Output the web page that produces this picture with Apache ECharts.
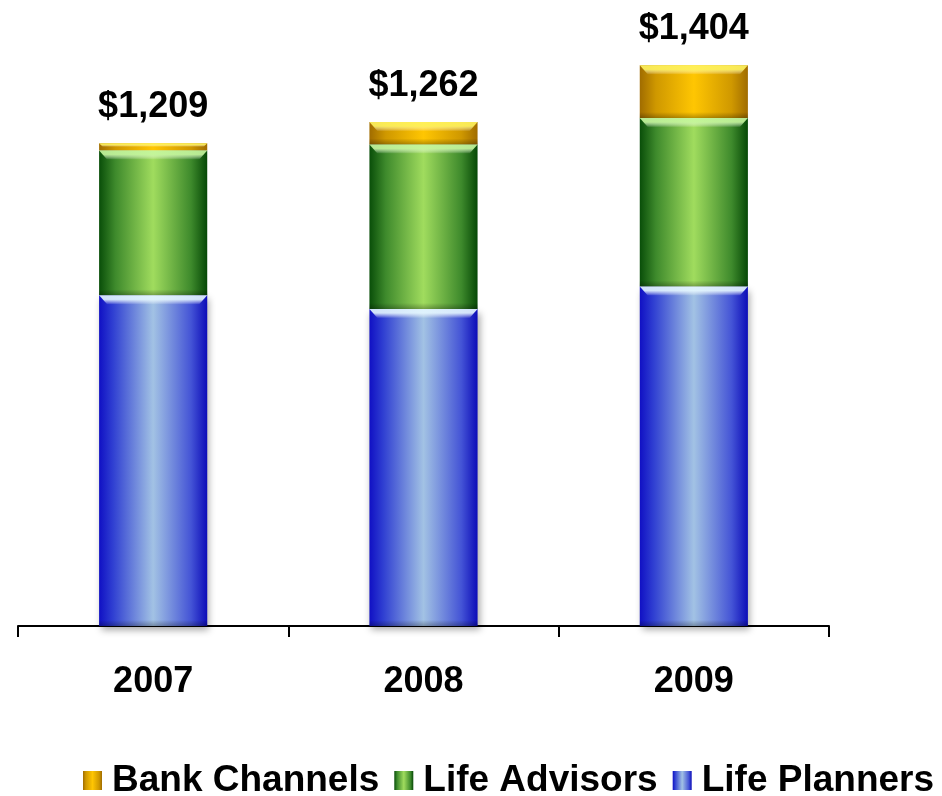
<!DOCTYPE html>
<html>
<head>
<meta charset="utf-8">
<script src="https://cdn.jsdelivr.net/npm/echarts@6/dist/echarts.min.js"></script>
<style>
  html, body { margin: 0; padding: 0; background: #ffffff; }
  #chart { width: 942px; height: 796px; }
</style>
</head>
<body>
<div id="chart"></div>
<script>
// Revenue by distribution channel ($ millions)
const years = ['2007', '2008', '2009'];
const lifePlanners = [828, 794, 850];
const lifeAdvisors = [363, 412, 422];
const bankChannels = [18, 56, 132];

const FONT = '"Liberation Sans", Arial, Helvetica, sans-serif';
const BAR_RATIO = 0.4;

function hGrad(stops) {
  return new echarts.graphic.LinearGradient(0, 0, 1, 0,
    stops.map(s => ({ offset: s[0], color: s[1] })));
}

const blueFill = hGrad([[0, '#1010c4'], [0.13, '#3040d2'], [0.5, '#a2c2e4'], [0.85, '#4454d6'], [1, '#0c0cb8']]);
const greenFill = hGrad([[0, '#094e09'], [0.15, '#3e8a2c'], [0.5, '#a0dc5e'], [0.85, '#3e8a2c'], [1, '#064806']]);
const goldFill = hGrad([[0, '#a06c00'], [0.15, '#cf9800'], [0.5, '#ffc602'], [0.85, '#cf9800'], [1, '#a06c00']]);

const seriesStack = [lifePlanners, lifeAdvisors, bankChannels];
const glossTint = ['#e6f8ff', '#c8f8a0', '#fff460'];

// segment extents for the bevel overlay: [category, base, top, layer]
const glossData = [];
years.forEach((y, i) => {
  let base = 0;
  seriesStack.forEach((arr, k) => {
    glossData.push([i, base, base + arr[i], k]);
    base += arr[i];
  });
});

function totalAt(i) {
  return lifePlanners[i] + lifeAdvisors[i] + bankChannels[i];
}

// glossy top bevel and shaded lower edge drawn over each stacked segment
function renderBevel(params, api) {
  const cat = api.value(0);
  const lo = api.value(1);
  const hi = api.value(2);
  const layer = glossData[params.dataIndex][3];
  const pTop = api.coord([cat, hi]);
  const pBot = api.coord([cat, lo]);
  const w = api.size([1, 0])[0] * BAR_RATIO;
  const x0 = pTop[0] - w / 2;
  const x1 = pTop[0] + w / 2;
  const y0 = pTop[1];
  const h = pBot[1] - pTop[1];
  const band = Math.min(9, h * 0.5);
  const inset = Math.min(8, band);
  const tint = glossTint[layer];
  const children = [
    {
      type: 'polygon',
      shape: { points: [[x0, y0], [x1, y0], [x1 - inset, y0 + band], [x0 + inset, y0 + band]] },
      style: {
        fill: new echarts.graphic.LinearGradient(0, 0, 0, 1, [
          { offset: 0, color: tint },
          { offset: 0.45, color: tint },
          { offset: 1, color: 'rgba(255,255,255,0.05)' }
        ]),
        opacity: 0.9
      }
    }
  ];
  if (h > 12) {
    children.push({
      type: 'rect',
      shape: { x: x0, y: pBot[1] - 6, width: w, height: 6 },
      style: {
        fill: new echarts.graphic.LinearGradient(0, 0, 0, 1, [
          { offset: 0, color: 'rgba(0,0,0,0)' },
          { offset: 1, color: 'rgba(0,0,0,0.28)' }
        ])
      }
    });
  }
  return { type: 'group', children: children };
}

const chart = echarts.init(document.getElementById('chart'));
chart.setOption({
  animation: false,
  backgroundColor: '#ffffff',
  grid: { left: 18, right: 113, top: 27, bottom: 170 },
  legend: {
    data: ['Bank Channels', 'Life Advisors', 'Life Planners'],
    left: 83,
    top: 762,
    width: 859,
    padding: 0,
    icon: 'rect',
    itemWidth: 19,
    itemHeight: 19,
    itemGap: 15,
    textStyle: { fontFamily: FONT, fontSize: 37, fontWeight: 'bold', color: '#000', padding: [0, 0, 0, 5] }
  },
  xAxis: {
    type: 'category',
    data: years,
    axisLine: { lineStyle: { color: '#000', width: 2 } },
    axisTick: { show: true, length: 11, lineStyle: { color: '#000', width: 2 } },
    axisLabel: { margin: 38, fontFamily: FONT, fontSize: 36, fontWeight: 'bold', color: '#000' }
  },
  yAxis: {
    type: 'value',
    min: 0,
    max: 1500,
    show: false,
    splitLine: { show: false }
  },
  series: [
    {
      name: 'Life Planners',
      type: 'bar',
      stack: 'total',
      barWidth: '40%',
      data: lifePlanners,
      itemStyle: {
        color: blueFill,
        shadowColor: 'rgba(0,0,0,0.35)',
        shadowBlur: 7,
        shadowOffsetX: 2,
        shadowOffsetY: 4
      }
    },
    {
      name: 'Life Advisors',
      type: 'bar',
      stack: 'total',
      barWidth: '40%',
      data: lifeAdvisors,
      itemStyle: { color: greenFill }
    },
    {
      name: 'Bank Channels',
      type: 'bar',
      stack: 'total',
      barWidth: '40%',
      data: bankChannels,
      itemStyle: { color: goldFill },
      label: {
        show: true,
        position: 'top',
        distance: 18,
        fontFamily: FONT,
        fontSize: 36,
        fontWeight: 'bold',
        color: '#000',
        formatter: p => '$' + totalAt(p.dataIndex).toLocaleString('en-US')
      }
    },
    {
      name: 'bevel',
      type: 'custom',
      coordinateSystem: 'cartesian2d',
      silent: true,
      z: 5,
      dimensions: ['cat', 'lo', 'hi', 'layer'],
      encode: { x: 'cat', y: ['lo', 'hi'] },
      data: glossData,
      renderItem: renderBevel
    }
  ]
});
</script>
</body>
</html>
